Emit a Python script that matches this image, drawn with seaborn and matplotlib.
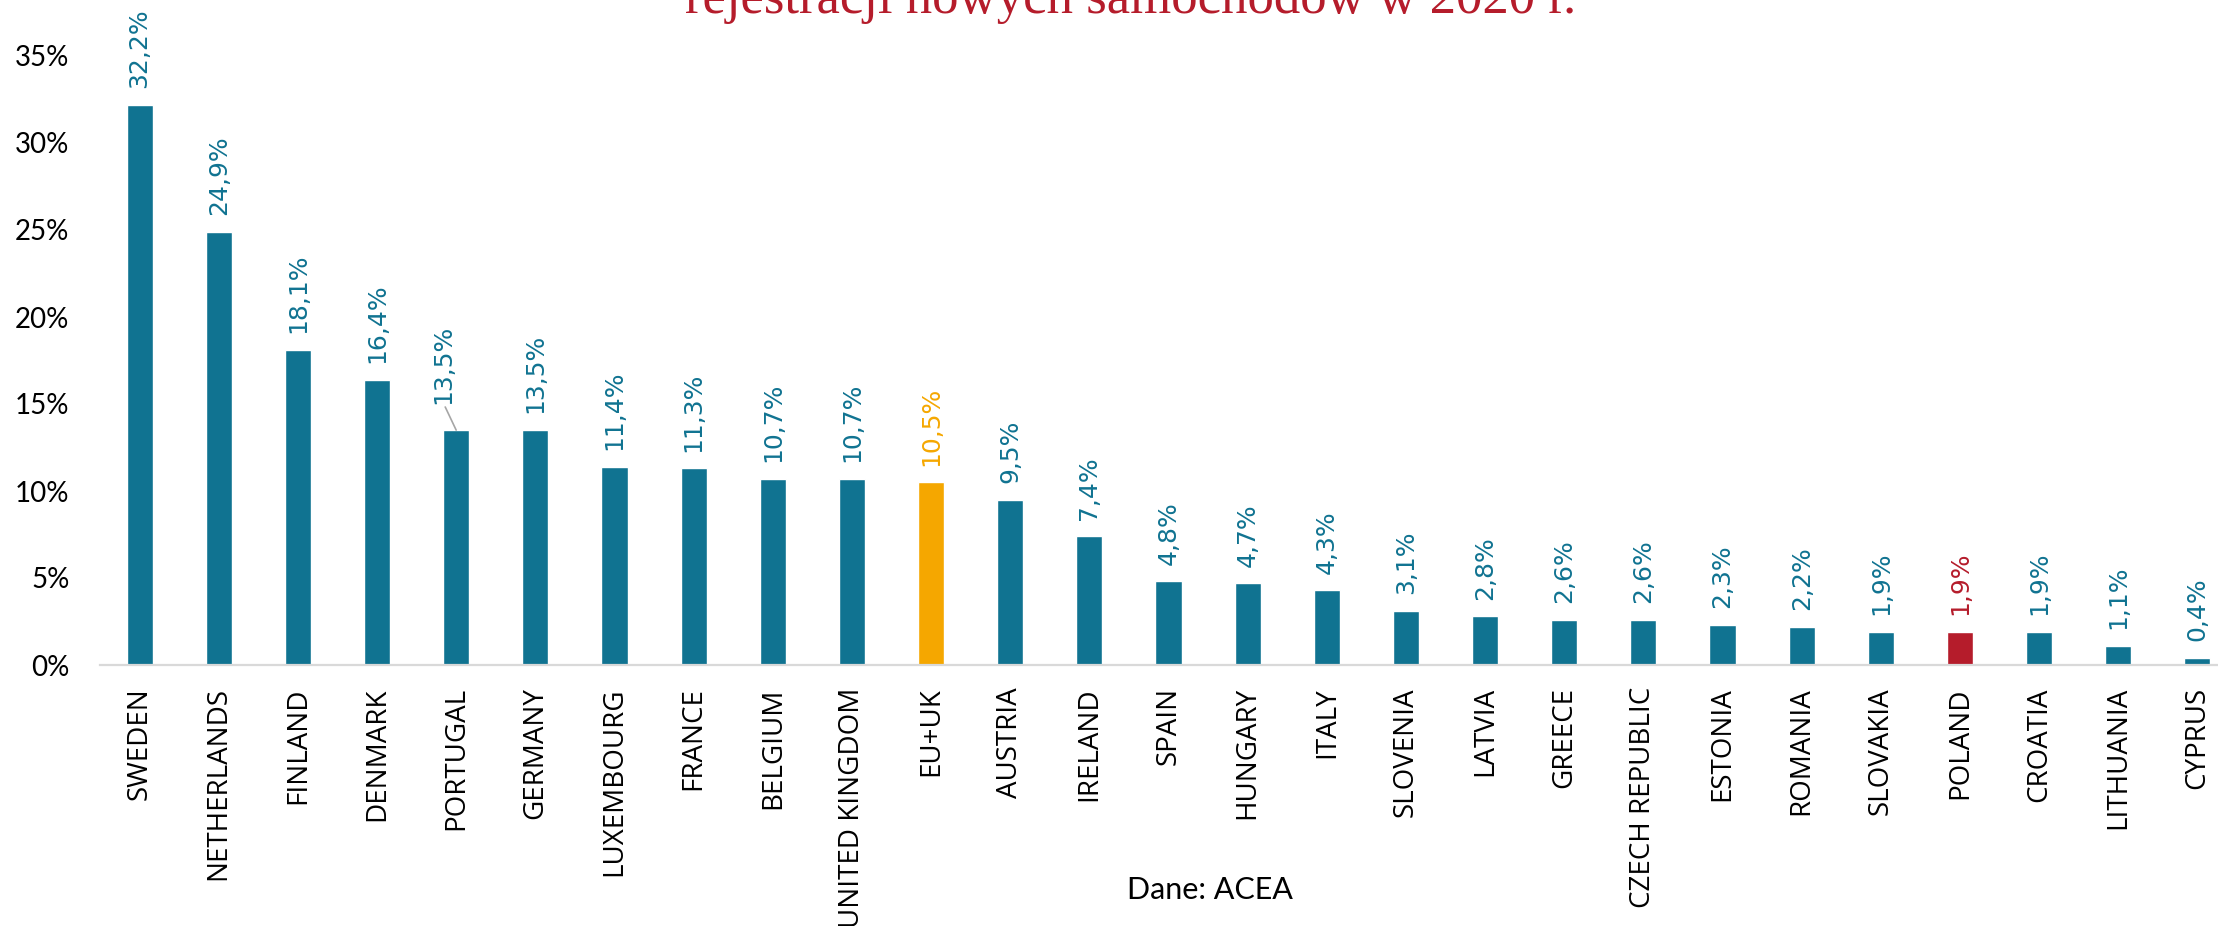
import matplotlib
matplotlib.use("Agg")
import matplotlib.pyplot as plt
import seaborn as sns

# data
countries = [
    "SWEDEN", "NETHERLANDS", "FINLAND", "DENMARK", "PORTUGAL", "GERMANY",
    "LUXEMBOURG", "FRANCE", "BELGIUM", "UNITED KINGDOM", "EU+UK", "AUSTRIA",
    "IRELAND", "SPAIN", "HUNGARY", "ITALY", "SLOVENIA", "LATVIA", "GREECE",
    "CZECH REPUBLIC", "ESTONIA", "ROMANIA", "SLOVAKIA", "POLAND", "CROATIA",
    "LITHUANIA", "CYPRUS",
]
shares = [
    32.2, 24.9, 18.1, 16.4, 13.5, 13.5, 11.4, 11.3, 10.7, 10.7, 10.5, 9.5,
    7.4, 4.8, 4.7, 4.3, 3.1, 2.8, 2.6, 2.6, 2.3, 2.2, 1.9, 1.9, 1.9, 1.1, 0.4,
]
y_ticks = [0, 5, 10, 15, 20, 25, 30, 35]
title_line = "rejestracji nowych samochodów w 2020 r."
source = "Dane: ACEA"

TEAL = "#107391"
ORANGE = "#F5A700"
RED = "#B51C2B"
highlight = {"EU+UK": ORANGE, "POLAND": RED}
colors = [highlight.get(c, TEAL) for c in countries]

sns.set_theme(style="white")
plt.rcParams["font.family"] = ["Open Sans", "DejaVu Sans"]

fig = plt.figure(figsize=(22.18, 9.26), dpi=100)
W, H = 2218, 926
ax = fig.add_axes([100 / W, (H - 665) / H, (2237 - 100) / W, 609 / H])

sns.barplot(x=countries, y=shares, hue=countries, palette=colors,
            legend=False, width=0.33, saturation=1, ax=ax)

ax.set_xlim(-0.5, len(countries) - 0.5)
ax.set_ylim(0, 35)
ax.set_yticks(y_ticks)
ax.set_yticklabels([f"{t}%" for t in y_ticks], family=["Lato", "DejaVu Sans"],
                   fontsize=20)
ax.tick_params(axis="y", length=0, pad=22)
ax.tick_params(axis="x", length=0, pad=16, labelsize=20, rotation=90)
for lbl in ax.get_xticklabels():
    lbl.set_color("black")
for lbl in ax.get_yticklabels():
    lbl.set_color("black")

for s in ["top", "right", "left"]:
    ax.spines[s].set_visible(False)
ax.spines["bottom"].set_color("#D9D9D9")
ax.spines["bottom"].set_linewidth(1.6)
ax.set_xlabel("")
ax.set_ylabel("")

# value labels
for i, (c, v) in enumerate(zip(countries, shares)):
    txt = f"{v:.1f}%".replace(".", ",")
    col = highlight.get(c, TEAL)
    if c == "PORTUGAL":
        ax.annotate(txt, xy=(i, v), xytext=(-9, 19), textcoords="offset points",
                    rotation=90, ha="center", va="bottom", fontsize=18,
                    color=col, family="DejaVu Sans", clip_on=False,
                    arrowprops=dict(arrowstyle="-", color="#A6A6A6", lw=1.2,
                                    shrinkA=0, shrinkB=0,
                                    relpos=(0.5, 0.0)))
    else:
        ax.annotate(txt, xy=(i, v), xytext=(0, 12), textcoords="offset points",
                    rotation=90, ha="center", va="bottom", fontsize=18,
                    color=col, family="DejaVu Sans", clip_on=False)

# title: only the bottom of its last line shows in the reference
fig.text(1131 / W, 1 - 13 / H, title_line, ha="center", va="baseline",
         fontsize=38, color="#B51C2B", family=["Liberation Serif", "DejaVu Serif"])
fig.text(1210 / W, 1 - 890 / H, source, ha="center", va="center",
         fontsize=22, color="black", family=["Lato", "DejaVu Sans"])

fig.savefig("out.png", dpi=100, facecolor="white")
